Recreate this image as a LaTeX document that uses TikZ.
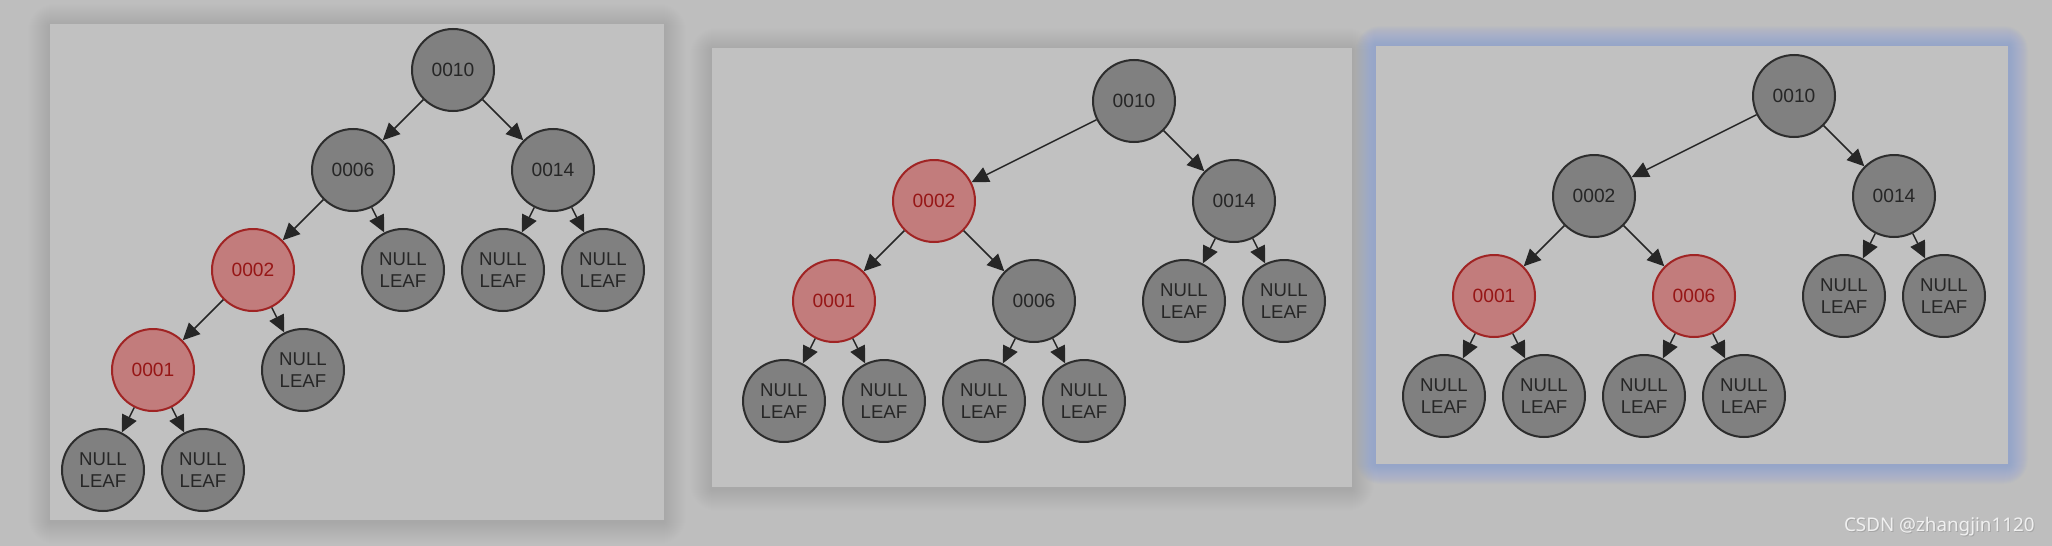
\documentclass[tikz,border=0pt]{standalone}
\usepackage{fontspec}
\setmainfont{Liberation Sans}
\newfontfamily\wmfont{Noto Sans}
\usetikzlibrary{arrows.meta}
\definecolor{pagebg}{RGB}{190,190,190}
\definecolor{panelbg}{RGB}{193,193,193}
\definecolor{nodegray}{RGB}{128,128,128}
\definecolor{nodeline}{RGB}{45,45,45}
\definecolor{redfill}{RGB}{194,124,124}
\definecolor{redline}{RGB}{160,36,36}
\definecolor{redtext}{RGB}{150,22,22}
\definecolor{glow}{RGB}{125,152,228}
\tikzset{
  bnode/.style={circle,draw=nodeline,fill=nodegray,line width=1pt,minimum size=41pt,inner sep=0pt,
    font=\fontsize{9.6}{11.7}\selectfont,text=black!85},
  rnode/.style={bnode,draw=redline,fill=redfill,text=redtext},
  leafnode/.style={bnode,align=center,font=\fontsize{9.3}{11.4}\selectfont},
  edge/.style={line width=0.75pt,draw=black!85,-{Triangle[length=8.5pt,width=8pt]}},
}
\begin{document}
\begin{tikzpicture}[x=0.5pt,y=-0.5pt]
\fill[pagebg] (0,0) rectangle (2052,546);
\useasboundingbox (0,0) rectangle (2052,546);
% shadows
\foreach \i in {1,...,22}{
  \fill[black,opacity=0.005,rounded corners={\i*0.6}] ({50-\i},{26-\i}) rectangle ({664+\i},{522+\i});
  \fill[black,opacity=0.005,rounded corners={\i*0.6}] ({712-\i},{50-\i}) rectangle ({1352+\i},{489+\i});
}
\foreach \i in {1,...,20}{
  \fill[glow,opacity=0.036,rounded corners={\i*0.6}] ({1376-\i},{46-\i}) rectangle ({2008+\i},{464+\i});
}
\fill[panelbg] (50,24) rectangle (664,520);
\fill[panelbg] (712,48) rectangle (1352,487);
\fill[panelbg] (1376,46) rectangle (2008,464);

% ---------- panel 1 ----------
\node[bnode] (p1r) at (453,70) {0010};
\node[bnode] (p1a) at (353,170) {0006};
\node[bnode] (p1b) at (553,170) {0014};
\node[rnode] (p1c) at (253,270) {0002};
\node[leafnode] (p1n1) at (403,270) {NULL\\LEAF};
\node[leafnode] (p1n2) at (503,270) {NULL\\LEAF};
\node[leafnode] (p1n3) at (603,270) {NULL\\LEAF};
\node[rnode] (p1d) at (153,370) {0001};
\node[leafnode] (p1n4) at (303,370) {NULL\\LEAF};
\node[leafnode] (p1n5) at (103,470) {NULL\\LEAF};
\node[leafnode] (p1n6) at (203,470) {NULL\\LEAF};
\draw[edge] (p1r) -- (p1a);
\draw[edge] (p1r) -- (p1b);
\draw[edge] (p1a) -- (p1c);
\draw[edge] (p1a) -- (p1n1);
\draw[edge] (p1b) -- (p1n2);
\draw[edge] (p1b) -- (p1n3);
\draw[edge] (p1c) -- (p1d);
\draw[edge] (p1c) -- (p1n4);
\draw[edge] (p1d) -- (p1n5);
\draw[edge] (p1d) -- (p1n6);

% ---------- panel 2 ----------
\node[bnode] (p2r) at (1134,101) {0010};
\node[rnode] (p2a) at (934,201) {0002};
\node[bnode] (p2b) at (1234,201) {0014};
\node[rnode] (p2c) at (834,301) {0001};
\node[bnode] (p2d) at (1034,301) {0006};
\node[leafnode] (p2n1) at (1184,301) {NULL\\LEAF};
\node[leafnode] (p2n2) at (1284,301) {NULL\\LEAF};
\node[leafnode] (p2n3) at (784,401) {NULL\\LEAF};
\node[leafnode] (p2n4) at (884,401) {NULL\\LEAF};
\node[leafnode] (p2n5) at (984,401) {NULL\\LEAF};
\node[leafnode] (p2n6) at (1084,401) {NULL\\LEAF};
\draw[edge] (p2r) -- (p2a);
\draw[edge] (p2r) -- (p2b);
\draw[edge] (p2a) -- (p2c);
\draw[edge] (p2a) -- (p2d);
\draw[edge] (p2b) -- (p2n1);
\draw[edge] (p2b) -- (p2n2);
\draw[edge] (p2c) -- (p2n3);
\draw[edge] (p2c) -- (p2n4);
\draw[edge] (p2d) -- (p2n5);
\draw[edge] (p2d) -- (p2n6);

% ---------- panel 3 ----------
\node[bnode] (p3r) at (1794,96) {0010};
\node[bnode] (p3a) at (1594,196) {0002};
\node[bnode] (p3b) at (1894,196) {0014};
\node[rnode] (p3c) at (1494,296) {0001};
\node[rnode] (p3d) at (1694,296) {0006};
\node[leafnode] (p3n1) at (1844,296) {NULL\\LEAF};
\node[leafnode] (p3n2) at (1944,296) {NULL\\LEAF};
\node[leafnode] (p3n3) at (1444,396) {NULL\\LEAF};
\node[leafnode] (p3n4) at (1544,396) {NULL\\LEAF};
\node[leafnode] (p3n5) at (1644,396) {NULL\\LEAF};
\node[leafnode] (p3n6) at (1744,396) {NULL\\LEAF};
\draw[edge] (p3r) -- (p3a);
\draw[edge] (p3r) -- (p3b);
\draw[edge] (p3a) -- (p3c);
\draw[edge] (p3a) -- (p3d);
\draw[edge] (p3b) -- (p3n1);
\draw[edge] (p3b) -- (p3n2);
\draw[edge] (p3c) -- (p3n3);
\draw[edge] (p3c) -- (p3n4);
\draw[edge] (p3d) -- (p3n5);
\draw[edge] (p3d) -- (p3n6);

% watermark
\node[anchor=base east,inner sep=0pt,font=\wmfont\fontsize{9.4}{11}\selectfont,text=black!35] (wms) at (2036,532) {CSDN @zhangjin1120};
\node[anchor=base east,inner sep=0pt,font=\wmfont\fontsize{9.4}{11}\selectfont,text=white!88!gray] (wm) at (2035,531) {CSDN @zhangjin1120};
\end{tikzpicture}
\end{document}
